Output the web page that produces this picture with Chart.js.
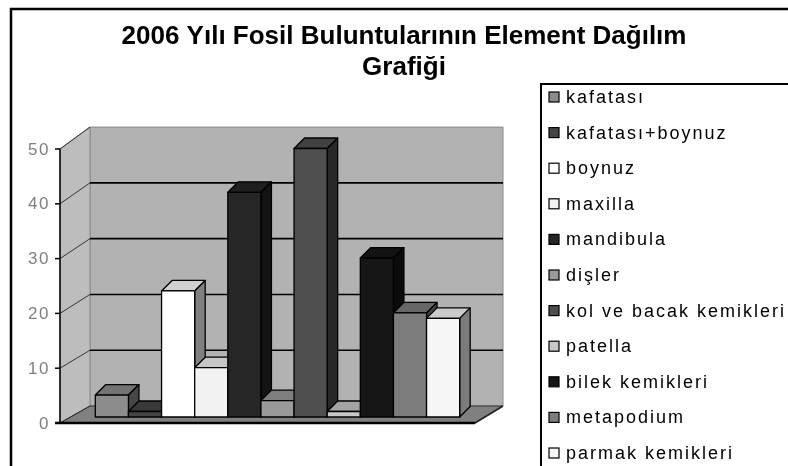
<!DOCTYPE html>
<html>
<head>
<meta charset="utf-8">
<script src="https://cdn.jsdelivr.net/npm/chart.js@4"></script>
<style>
  html, body { margin: 0; padding: 0; background: #fff; }
  #wrap { width: 788px; height: 466px; }
</style>
</head>
<body>
<div id="wrap"><canvas id="fossilChart" width="788" height="466"></canvas></div>
<script>
// element categories and counts for the 2006 finds
const elements = ['kafatası', 'kafatası+boynuz', 'boynuz', 'maxilla', 'mandibula', 'dişler',
  'kol ve bacak kemikleri', 'patella', 'bilek kemikleri', 'metapodium', 'parmak kemikleri'];
const counts = [4, 1, 23, 9, 41, 3, 49, 1, 29, 19, 18];
const shades = ['#8c8c8c', '#454545', '#ffffff', '#f2f2f2', '#262626', '#9a9a9a',
  '#4f4f4f', '#c8c8c8', '#161616', '#7d7d7d', '#f7f7f7'];
const yTicks = [0, 10, 20, 30, 40, 50];
const titleLines = ['2006 Yılı Fosil Buluntularının Element Dağılım', 'Grafiği'];

const FONT = "'Liberation Sans', Arial, sans-serif";
const BAR_DEPTH = { dx: 10.5, dy: -10.5 };

function shade(hex, f) {
  const n = parseInt(hex.slice(1), 16);
  const c = [(n >> 16) & 255, (n >> 8) & 255, n & 255].map(v => Math.round(v * f));
  return 'rgb(' + c.join(',') + ')';
}

function poly(ctx, pts, fill, stroke, lw) {
  ctx.beginPath();
  ctx.moveTo(pts[0][0], pts[0][1]);
  for (let i = 1; i < pts.length; i++) ctx.lineTo(pts[i][0], pts[i][1]);
  ctx.closePath();
  if (fill) { ctx.fillStyle = fill; ctx.fill(); }
  if (stroke) { ctx.strokeStyle = stroke; ctx.lineWidth = lw || 1; ctx.stroke(); }
}

function line(ctx, x1, y1, x2, y2, color, lw) {
  ctx.beginPath();
  ctx.moveTo(x1, y1);
  ctx.lineTo(x2, y2);
  ctx.strokeStyle = color;
  ctx.lineWidth = lw;
  ctx.stroke();
}

// walls, floor and axis of the 3D box, all derived from the y scale
function frameGeometry(chart) {
  const y = chart.scales.y;
  const a = chart.chartArea;
  const y0 = y.getPixelForValue(0);
  return {
    xFL: a.left - 10, xFR: a.right - 10,
    xBL: a.left + 20, xBR: a.right + 18,
    front: v => y.getPixelForValue(v) + 6,
    back: v => (y0 - 11) - (y0 - y.getPixelForValue(v)) * 1.018
  };
}

const excel3d = {
  id: 'excel3d',
  beforeDraw(chart) {
    const ctx = chart.ctx;
    const g = frameGeometry(chart);
    const top = yTicks[yTicks.length - 1];
    ctx.save();
    ctx.fillStyle = '#fff';
    ctx.fillRect(0, 0, chart.width, chart.height);

    // outer chart border
    ctx.strokeStyle = '#000';
    ctx.lineWidth = 2.5;
    ctx.strokeRect(11, 9, chart.width + 20, chart.height + 20);

    // title
    ctx.fillStyle = '#000';
    ctx.font = 'bold 26px ' + FONT;
    ctx.textAlign = 'center';
    ctx.textBaseline = 'middle';
    ctx.fillText(titleLines[0], 404, 37);
    ctx.fillText(titleLines[1], 404, 68);

    // back wall
    poly(ctx, [[g.xBL, g.back(top)], [g.xBR, g.back(top)], [g.xBR, g.back(0)], [g.xBL, g.back(0)]],
      '#b2b2b2', '#8a8a8a', 1);
    // side wall
    poly(ctx, [[g.xFL, g.front(0)], [g.xFL, g.front(top)], [g.xBL, g.back(top)], [g.xBL, g.back(0)]],
      '#bdbdbd', '#8a8a8a', 1);
    // floor
    poly(ctx, [[g.xFL, g.front(0)], [g.xFR, g.front(0)], [g.xBR, g.back(0)], [g.xBL, g.back(0)]],
      '#808080', '#333', 1);

    // gridlines on the back wall and their runs across the side wall
    yTicks.forEach(v => {
      if (v > 0 && v < top) line(ctx, g.xBL, g.back(v), g.xBR, g.back(v), '#000', 1.6);
      line(ctx, g.xFL, g.front(v), g.xBL, g.back(v), '#333', 1);
    });

    // value axis with ticks
    line(ctx, g.xFL, g.front(0), g.xFL, g.front(top), '#000', 1.5);
    yTicks.forEach(v => line(ctx, g.xFL - 5, g.front(v), g.xFL, g.front(v), '#000', 1.5));
    line(ctx, g.xFL - 5, g.front(0), g.xFR, g.front(0), '#000', 2.5);
    line(ctx, g.xFR, g.front(0), g.xBR, g.back(0), '#222', 1.5);

    ctx.font = '17px ' + FONT;
    ctx.textAlign = 'right';
    if ('letterSpacing' in ctx) ctx.letterSpacing = '1.5px';
    yTicks.forEach(v => ctx.fillText(String(v), 50, g.front(v) + 1));
    ctx.restore();
  },
  afterDatasetsDraw(chart) {
    // redraw each column as a box, left to right so nearer columns overlap
    const ctx = chart.ctx;
    const d = BAR_DEPTH;
    ctx.save();
    ctx.lineJoin = 'round';
    chart.data.datasets.forEach((ds, i) => {
      const el = chart.getDatasetMeta(i).data[0];
      const p = el.getProps(['x', 'y', 'base', 'width'], true);
      const l = p.x - p.width / 2, r = p.x + p.width / 2;
      const c = ds.backgroundColor;
      poly(ctx, [[l, p.y], [r, p.y], [r + d.dx, p.y + d.dy], [l + d.dx, p.y + d.dy]], shade(c, 0.82), '#000', 1.3);
      poly(ctx, [[r, p.y], [r + d.dx, p.y + d.dy], [r + d.dx, p.base + d.dy], [r, p.base]], shade(c, 0.5), '#000', 1.3);
      poly(ctx, [[l, p.y], [r, p.y], [r, p.base], [l, p.base]], c, '#000', 1.3);
    });
    ctx.restore();
  },
  afterDraw(chart) {
    // legend box on the right
    const ctx = chart.ctx;
    ctx.save();
    ctx.fillStyle = '#fff';
    ctx.fillRect(541, 84, 300, 500);
    ctx.strokeStyle = '#000';
    ctx.lineWidth = 2;
    ctx.strokeRect(541, 84, 300, 500);
    ctx.font = '18px ' + FONT;
    ctx.textAlign = 'left';
    ctx.textBaseline = 'middle';
    if ('letterSpacing' in ctx) ctx.letterSpacing = '2px';
    chart.data.datasets.forEach((ds, i) => {
      const cy = 97 + i * 35.6;
      ctx.fillStyle = ds.backgroundColor;
      ctx.fillRect(549, cy - 5, 10, 10);
      ctx.strokeStyle = '#000';
      ctx.lineWidth = 1.2;
      ctx.strokeRect(549, cy - 5, 10, 10);
      ctx.fillStyle = '#000';
      ctx.fillText(ds.label, 566, cy + 1);
    });
    ctx.restore();
  }
};

new Chart(document.getElementById('fossilChart'), {
  type: 'bar',
  data: {
    labels: [''],
    datasets: elements.map((name, i) => ({
      label: name,
      data: [counts[i]],
      backgroundColor: shades[i],
      borderColor: '#000',
      borderWidth: 1
    }))
  },
  options: {
    responsive: false,
    animation: false,
    devicePixelRatio: 1,
    layout: { padding: { left: 70, right: 303, top: 143, bottom: 49 } },
    datasets: { bar: { categoryPercentage: 0.878, barPercentage: 1 } },
    plugins: {
      legend: { display: false },
      title: { display: false },
      tooltip: { enabled: false }
    },
    scales: {
      x: { display: false },
      y: { display: false, min: 0, max: 50 }
    }
  },
  plugins: [excel3d]
});
</script>
</body>
</html>
